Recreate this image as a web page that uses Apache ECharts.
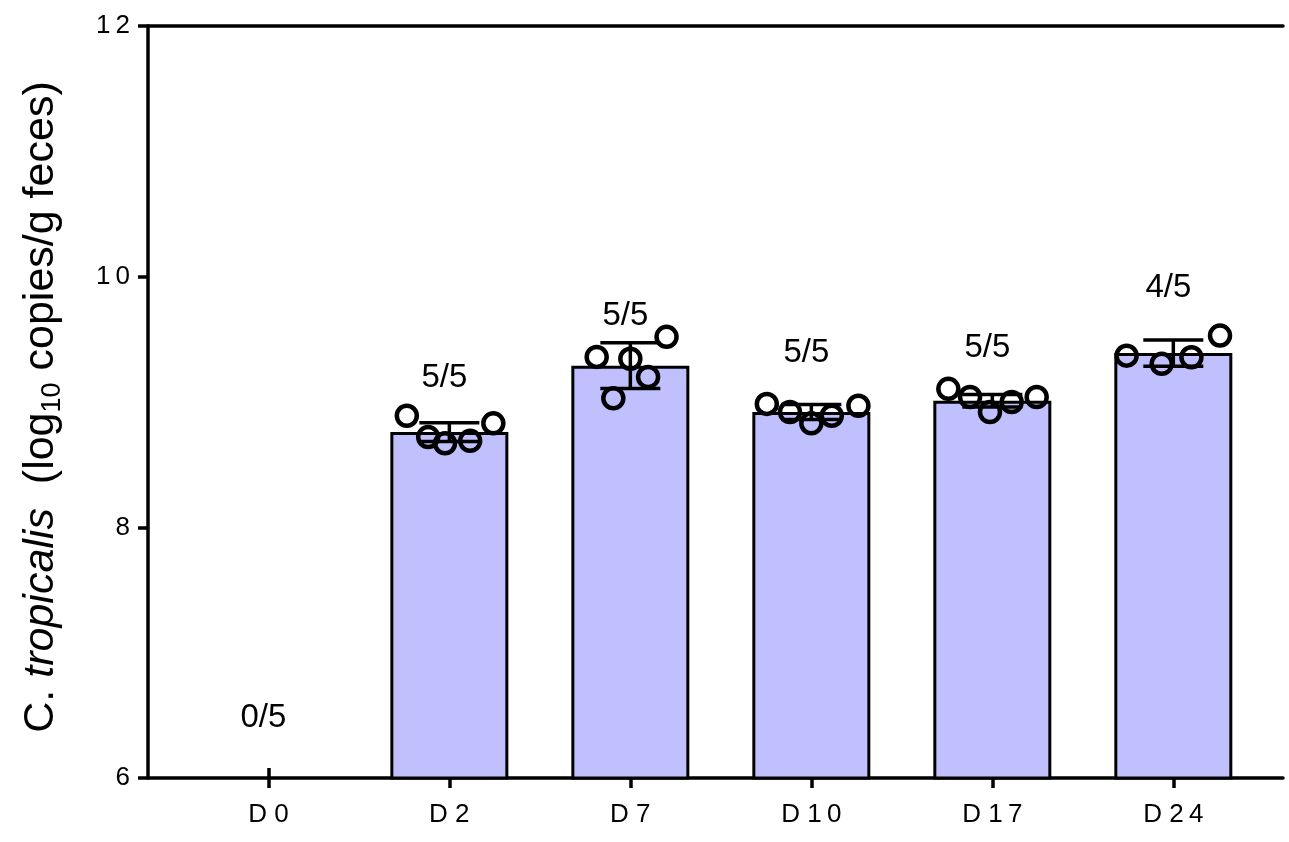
<!DOCTYPE html>
<html>
<head>
<meta charset="utf-8">
<script src="https://cdn.jsdelivr.net/npm/echarts@6/dist/echarts.min.js"></script>
<style>
html,body{margin:0;padding:0;background:#fff}
#chart{width:1289px;height:842px}
</style>
</head>
<body>
<div id="chart"></div>
<script>
// groups (days after colonisation)
var days = ['D0', 'D2', 'D7', 'D10', 'D17', 'D24'];
// positive mice / total, shown above each group
var fractions = ['0/5', '5/5', '5/5', '5/5', '5/5', '4/5'];
var fractionY = [6.48, 9.19, 9.69, 9.39, 9.43, 9.91];
// mean and SD, log10 copies/g feces
var means = [null, 8.76, 9.29, 8.92, 9.01, 9.39];
var sds = [null, 0.075, 0.183, 0.06, 0.05, 0.105];
// single mice
var mice = [
    [],
    [8.89, 8.72, 8.67, 8.69, 8.83],
    [9.36, 9.03, 9.345, 9.20, 9.52],
    [8.985, 8.92, 8.83, 8.89, 8.97],
    [9.105, 9.04, 8.92, 9.00, 9.04],
    [9.37, 9.305, 9.357, 9.53]
];
// horizontal scatter of the dots inside a group (in group widths)
var jitter = [
    [],
    [-0.235, -0.117, -0.024, 0.115, 0.243],
    [-0.186, -0.094, 0, 0.098, 0.2],
    [-0.246, -0.118, 0, 0.113, 0.26],
    [-0.243, -0.123, -0.013, 0.107, 0.245],
    [-0.258, -0.064, 0.10, 0.258]
];
var yTicks = [6, 8, 10, 12];

var font = 'Liberation Sans, Arial, Helvetica, sans-serif';
var idx = days.map(function (d, i) { return i; });

var barData = [], errData = [], dotData = [], fracData = [];
days.forEach(function (d, i) {
    if (means[i] != null) {
        barData.push([i, means[i]]);
        errData.push([i, means[i], sds[i]]);
    }
    mice[i].forEach(function (v, j) {
        dotData.push([i + jitter[i][j], v]);
    });
    fracData.push({value: [i, fractionY[i]], name: fractions[i]});
});

function spaced(s) {
    return String(s).split('').join('\u2009');
}

var myChart = echarts.init(document.getElementById('chart'));
var axisStyle = {color: '#000', width: 3.5};
var option = {
    animation: false,
    backgroundColor: '#fff',
    grid: {left: 148, right: 6, top: 26, bottom: 64, containLabel: false, outerBoundsMode: 'none'},
    xAxis: [
        {
            type: 'value', min: -0.665, max: 5.606, position: 'bottom',
            axisLine: {show: true, onZero: false, lineStyle: axisStyle},
            axisTick: {show: true, customValues: idx, length: 10, lineStyle: axisStyle},
            axisLabel: {
                show: true, customValues: idx, margin: 24,
                color: '#000', fontSize: 26, fontFamily: font,
                formatter: function (v) {
                    var d = days[Math.round(v)];
                    return 'D ' + spaced(d.slice(1));
                }
            },
            splitLine: {show: false}
        },
        {
            type: 'value', min: -0.665, max: 5.606, position: 'bottom',
            axisLine: {show: false},
            axisTick: {show: true, inside: true, customValues: idx, length: 10, lineStyle: axisStyle},
            axisLabel: {show: false},
            splitLine: {show: false}
        },
        {
            type: 'value', min: -0.665, max: 5.606, position: 'top',
            axisLine: {show: true, onZero: false, lineStyle: axisStyle},
            axisTick: {show: false},
            axisLabel: {show: false},
            splitLine: {show: false}
        }
    ],
    yAxis: {
        type: 'value', min: yTicks[0], max: yTicks[yTicks.length - 1], interval: 2,
        axisLine: {show: true, onZero: false, lineStyle: axisStyle},
        axisTick: {show: true, length: 10, lineStyle: axisStyle},
        axisLabel: {
            margin: 18, color: '#000', fontSize: 26, fontFamily: font,
            formatter: function (v) { return spaced(v); }
        },
        splitLine: {show: false},
        name: '{n|C.} {i|tropicalis}  {n|(log}{s|10}{n| copies/g feces)}',
        nameLocation: 'middle',
        nameRotate: 90,
        nameGap: 82,
        nameTextStyle: {
            color: '#000', fontFamily: font, fontSize: 43,
            padding: [0, 10, 0, 0],
            rich: {
                n: {fontSize: 43, fontFamily: font, color: '#000', lineHeight: 50},
                i: {fontSize: 43, fontFamily: font, color: '#000', fontStyle: 'italic', lineHeight: 50},
                s: {fontSize: 27, fontFamily: font, color: '#000', lineHeight: 30, verticalAlign: 'bottom'}
            }
        }
    },
    series: [
        {
            name: 'mean',
            type: 'bar',
            barWidth: 118,
            data: barData,
            itemStyle: {color: '#C0C0FF', borderColor: '#000', borderWidth: 3},
            z: 2
        },
        {
            name: 'sd',
            type: 'custom',
            data: errData,
            z: 3,
            renderItem: function (params, api) {
                var x = api.value(0), m = api.value(1), s = api.value(2);
                var hi = api.coord([x, m + s]);
                var lo = api.coord([x, m - s]);
                var w = 30;
                var st = {stroke: '#000', lineWidth: 3.5};
                return {
                    type: 'group',
                    children: [
                        {type: 'line', shape: {x1: hi[0], y1: hi[1], x2: lo[0], y2: lo[1]}, style: st},
                        {type: 'line', shape: {x1: hi[0] - w, y1: hi[1], x2: hi[0] + w, y2: hi[1]}, style: st},
                        {type: 'line', shape: {x1: lo[0] - w, y1: lo[1], x2: lo[0] + w, y2: lo[1]}, style: st}
                    ]
                };
            }
        },
        {
            name: 'mice',
            type: 'scatter',
            data: dotData,
            symbol: 'circle',
            symbolSize: 20,
            itemStyle: {color: 'rgba(255,255,255,0)', borderColor: '#000', borderWidth: 4.5, opacity: 1},
            z: 4
        },
        {
            name: 'fraction',
            type: 'scatter',
            data: fracData,
            symbolSize: 0,
            silent: true,
            itemStyle: {opacity: 1},
            label: {
                show: true, position: 'inside', offset: [-5, 0],
                formatter: '{b}', color: '#000', fontSize: 33, fontFamily: font
            },
            z: 5
        }
    ]
};
myChart.setOption(option);
</script>
</body>
</html>
